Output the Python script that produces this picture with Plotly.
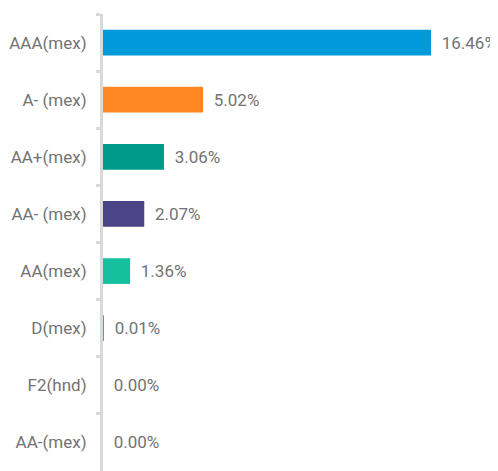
import plotly.graph_objects as go

categories = ["AAA(mex)", "A- (mex)", "AA+(mex)", "AA- (mex)", "AA(mex)", "D(mex)", "F2(hnd)", "AA-(mex)"]
values = [16.46, 5.02, 3.06, 2.07, 1.36, 0.01, 0.00, 0.00]
colors = ["#0099D9", "#FD8722", "#009A8A", "#4B4588", "#15C09F", "#15C09F", "#15C09F", "#15C09F"]

font_family = "Roboto, Liberation Sans, sans-serif"

fig = go.Figure()
fig.add_trace(go.Bar(
    x=values,
    y=categories,
    orientation="h",
    marker={"color": colors, "line": {"width": 0}},
    texttemplate="\u00a0\u2009%{x:.2f}%",
    textposition="outside",
    textfont={"size": 17, "color": "#737373", "family": font_family},
    cliponaxis=False,
    width=0.45,
))

fig.update_layout(
    width=490,
    height=463,
    margin={"l": 95, "r": 0, "t": 6, "b": 0, "autoexpand": False},
    paper_bgcolor="white",
    plot_bgcolor="white",
    showlegend=False,
    font={"family": font_family, "color": "#737373", "size": 17},
    xaxis={
        "range": [0, 19.82],
        "visible": False,
        "showgrid": False,
        "zeroline": False,
        "automargin": False,
    },
    yaxis={
        "autorange": "reversed",
        "automargin": False,
        "showline": True,
        "linecolor": "#D9D9D9",
        "linewidth": 3,
        "ticks": "outside",
        "tickson": "boundaries",
        "ticklen": 4,
        "tickwidth": 3,
        "tickcolor": "#D9D9D9",
        "showgrid": False,
        "ticklabelstandoff": 10,
        "tickfont": {"size": 17, "color": "#737373", "family": font_family},
    },
)

fig.write_html("out.html")
